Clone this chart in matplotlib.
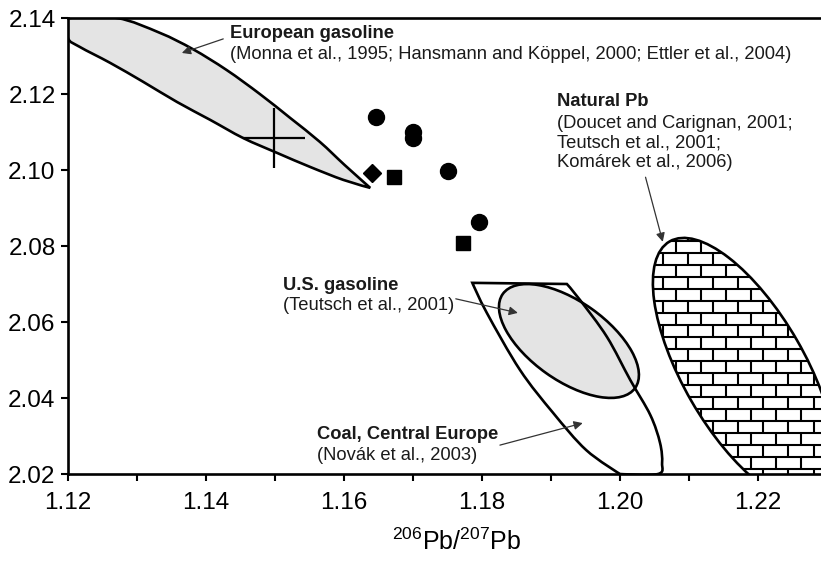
import numpy as np
import matplotlib
matplotlib.use('Agg')
import matplotlib.pyplot as plt
from matplotlib.path import Path
from matplotlib.patches import PathPatch
from matplotlib.transforms import Affine2D
from matplotlib.collections import LineCollection
from matplotlib.ticker import MultipleLocator, FormatStrFormatter

plt.rcParams['font.family'] = ['Liberation Sans', 'DejaVu Sans']
plt.rcParams['mathtext.fontset'] = 'custom'
plt.rcParams['mathtext.rm'] = 'Liberation Sans'
plt.rcParams['mathtext.it'] = 'Liberation Sans:italic'
plt.rcParams['mathtext.bf'] = 'Liberation Sans:bold'

# ---------------- data ----------------
circle_x = [1.1647, 1.1700, 1.1700, 1.1751, 1.1796]
circle_y = [2.1139, 2.1101, 2.1083, 2.0998, 2.0864]
square_x = [1.1672, 1.1773]
square_y = [2.0982, 2.0809]
diamond_x = [1.1640]
diamond_y = [2.0993]

cross_x = [1.1498]
cross_y = [2.1084]
cross_xerr = [0.0045]
cross_yerr = [0.0079]

# European gasoline field outline
euro_x = [1.1200, 1.1271, 1.1333, 1.1381, 1.1430, 1.1478, 1.1522, 1.1565, 1.1601,
          1.1638, 1.1599, 1.1551, 1.1503, 1.1454, 1.1406, 1.1358, 1.1309, 1.1261,
          1.1217, 1.1200]
euro_y = [2.1400, 2.1400, 2.1361, 2.1318, 2.1263, 2.1200, 2.1137, 2.1074, 2.1013,
          2.0953, 2.0974, 2.1008, 2.1045, 2.1084, 2.1132, 2.1179, 2.1232, 2.1282,
          2.1324, 2.1347]
euro_corners = [0, 9]

# Coal, Central Europe field outline
coal_x = [1.1786, 1.1923, 1.1942, 1.1981, 1.2015, 1.2044, 1.2058, 1.2061, 1.2055,
          1.2000, 1.1951, 1.1903, 1.1855, 1.1807]
coal_y = [2.0703, 2.0700, 2.0658, 2.0561, 2.0447, 2.0355, 2.0282, 2.0229, 2.0200,
          2.0200, 2.0263, 2.0361, 2.0474, 2.0624]
coal_corners = [0, 1, 9]

# U.S. gasoline ellipse: centre and two conjugate half-axes (data units)
us_center = (1.1926, 2.0550)
us_axis1 = (0.00959, -0.01237)
us_axis2 = (-0.00330, -0.00845)

# Natural Pb ellipse
nat_center = (1.2180, 2.0472)
nat_axis1 = (0.01080, -0.03400)
nat_axis2 = (0.00765, 0.00800)

xticks = [1.12, 1.14, 1.16, 1.18, 1.20, 1.22]
yticks = [2.02, 2.04, 2.06, 2.08, 2.10, 2.12, 2.14]

# ---------------- helpers ----------------
def smooth_closed_path(xs, ys, corners=()):
    pts = np.column_stack([xs, ys])
    n = len(pts)
    verts = [pts[0]]
    codes = [Path.MOVETO]
    for i in range(n):
        p0 = pts[(i - 1) % n]
        p1 = pts[i]
        p2 = pts[(i + 1) % n]
        p3 = pts[(i + 2) % n]
        t1 = np.zeros(2) if i in corners else (p2 - p0) / 6.0
        t2 = np.zeros(2) if ((i + 1) % n) in corners else (p3 - p1) / 6.0
        verts += [p1 + t1, p2 - t2, p2]
        codes += [Path.CURVE4] * 3
    verts.append(pts[0])
    codes.append(Path.CLOSEPOLY)
    return Path(verts, codes)


def ellipse_path(center, a1, a2):
    tr = Affine2D.from_values(a1[0], a1[1], a2[0], a2[1], center[0], center[1])
    return Path.unit_circle().transformed(tr)


# ---------------- figure ----------------
fig = plt.figure(figsize=(8.21, 5.63), dpi=100)
ax = fig.add_axes([68 / 821, 89 / 563, 759 / 821, 456 / 563])
ax.set_xlim(1.12, 1.23)
ax.set_ylim(2.02, 2.14)

lw = 1.9
grey = '#e4e4e4'

# European gasoline
euro_patch = PathPatch(smooth_closed_path(euro_x, euro_y, euro_corners),
                       facecolor=grey, edgecolor='black', lw=lw, zorder=2)
ax.add_patch(euro_patch)

# U.S. gasoline (fill under coal outline)
us_path = ellipse_path(us_center, us_axis1, us_axis2)
ax.add_patch(PathPatch(us_path, facecolor=grey, edgecolor='none', zorder=2))
ax.add_patch(PathPatch(smooth_closed_path(coal_x, coal_y, coal_corners),
                       facecolor='none', edgecolor='black', lw=lw, zorder=3))
ax.add_patch(PathPatch(us_path, facecolor='none', edgecolor='black', lw=lw, zorder=3))

# Natural Pb with brick pattern
nat_patch = PathPatch(ellipse_path(nat_center, nat_axis1, nat_axis2),
                      facecolor='white', edgecolor='black', lw=lw, zorder=2)
ax.add_patch(nat_patch)
dy = 12 / 3800.0
dx = 25 / 6900.0
segs = []
ys_rows = 2.0781 - dy * np.arange(-3, 24)
for k, yr in enumerate(ys_rows):
    segs.append([(1.19, yr), (1.24, yr)])
    off = (k % 2) * dx / 2
    for xv in np.arange(1.19 + off, 1.24, dx):
        segs.append([(xv, yr), (xv, yr - dy)])
bricks = LineCollection(segs, colors='black', linewidths=1.5, zorder=2.5)
ax.add_collection(bricks)
bricks.set_clip_path(nat_patch)
bricks.set_clip_box(ax.bbox)

# cross (error bars)
ax.errorbar(cross_x, cross_y, xerr=cross_xerr, yerr=cross_yerr, fmt='none',
            ecolor='black', elinewidth=1.6, capsize=0, zorder=4)

# sample points
ax.plot(circle_x, circle_y, 'o', color='black', ms=11.5, zorder=5)
ax.plot(square_x, square_y, 's', color='black', ms=10.5, zorder=5)
ax.plot(diamond_x, diamond_y, 'D', color='black', ms=9.5, zorder=5)

# arrows
arrow_kw = dict(arrowstyle='-|>', color='#333333', lw=0.9, mutation_scale=13,
                shrinkA=0, shrinkB=0)
arrows = [((1.1425, 2.1345), (1.1365, 2.1308)),
          ((1.2037, 2.0981), (1.2062, 2.0811)),
          ((1.1762, 2.0661), (1.1852, 2.0624)),
          ((1.1826, 2.0276), (1.1946, 2.0334))]
for start, end in arrows:
    ax.annotate('', xy=end, xytext=start, arrowprops=arrow_kw, zorder=6)

# labels
fs = 13.2
tc = '#1a1a1a'
ax.text(1.1435, 2.1360, 'European gasoline', fontsize=fs, fontweight='bold', va='center', color=tc)
ax.text(1.1435, 2.1304, '(Monna et al., 1995; Hansmann and Köppel, 2000; Ettler et al., 2004)',
        fontsize=fs, va='center', color=tc)
ax.text(1.1909, 2.1179, 'Natural Pb', fontsize=fs, fontweight='bold', va='center', color=tc)
ax.text(1.1909, 2.1123, '(Doucet and Carignan, 2001;', fontsize=fs, va='center', color=tc)
ax.text(1.1909, 2.1071, 'Teutsch et al., 2001;', fontsize=fs, va='center', color=tc)
ax.text(1.1909, 2.1019, 'Komárek et al., 2006)', fontsize=fs, va='center', color=tc)
ax.text(1.1512, 2.0695, 'U.S. gasoline', fontsize=fs, fontweight='bold', va='center', color=tc)
ax.text(1.1512, 2.0643, '(Teutsch et al., 2001)', fontsize=fs, va='center', color=tc)
ax.text(1.1561, 2.0303, 'Coal, Central Europe', fontsize=fs, fontweight='bold', va='center', color=tc)
ax.text(1.1561, 2.0250, '(Novák et al., 2003)', fontsize=fs, va='center', color=tc)

# axes styling
for side in ['left', 'bottom', 'top', 'right']:
    ax.spines[side].set_linewidth(1.9)
ax.set_xticks(xticks)
ax.set_yticks(yticks)
ax.xaxis.set_minor_locator(MultipleLocator(0.01))
ax.xaxis.set_major_formatter(FormatStrFormatter('%.2f'))
ax.yaxis.set_major_formatter(FormatStrFormatter('%.2f'))
ax.tick_params(axis='both', which='both', direction='out', length=5, width=1.5,
               labelsize=17.5, top=False, right=False)
ax.tick_params(axis='y', pad=4)
ax.tick_params(axis='x', pad=8)
ax.set_xlabel(r'$^{206}$Pb/$^{207}$Pb', fontsize=18)
ax.xaxis.set_label_coords((457 - 68) / 759, -(542 - 474) / 456)
ax.xaxis.label.set_va('center')

fig.savefig('out.png', dpi=100)
